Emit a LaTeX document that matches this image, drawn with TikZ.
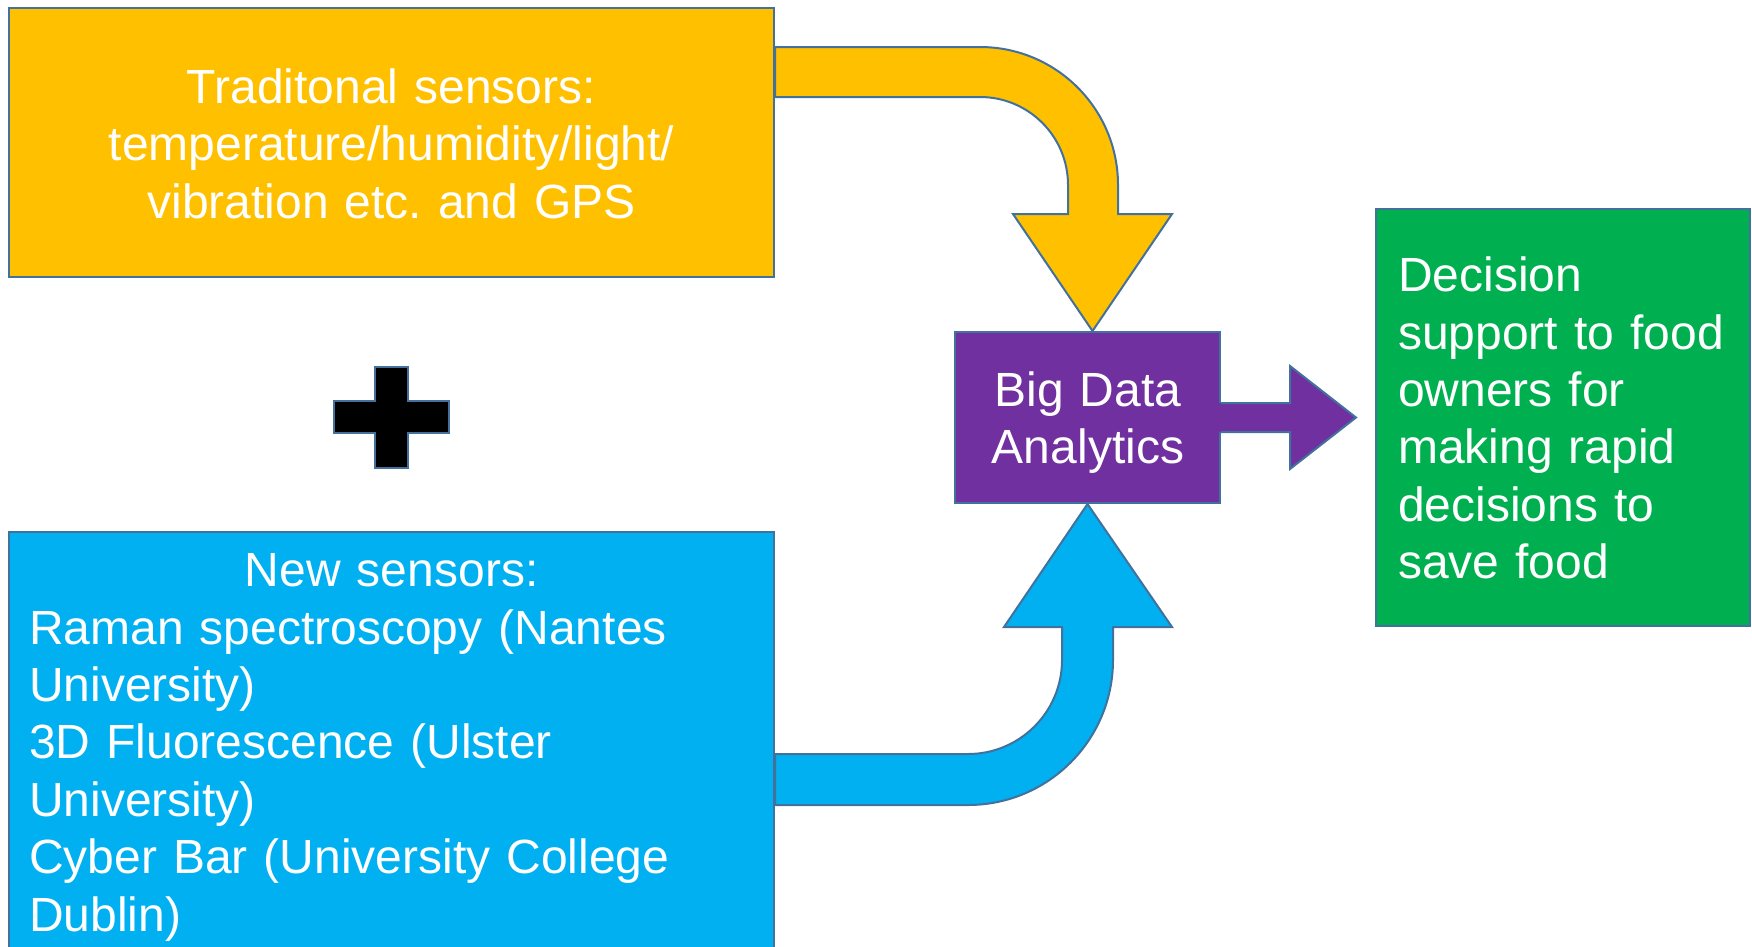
\documentclass[tikz,border=0pt]{standalone}
\usepackage{fontspec}
\setmainfont[WordSpace=0.85]{Liberation Sans}
\frenchspacing
\definecolor{yel}{HTML}{FFC000}
\definecolor{sky}{HTML}{00B0F0}
\definecolor{pur}{HTML}{7030A0}
\definecolor{grn}{HTML}{00B050}
\definecolor{edgeblue}{HTML}{41719C}
\begin{document}
\begin{tikzpicture}[x=1pt,y=-1pt,
  box/.style={draw=edgeblue, line width=2pt, rectangle, inner sep=0pt},
  txt/.style={text=white, font=\fontsize{48}{57.4}\selectfont, inner sep=0pt},
  blockarrow/.style={draw=edgeblue, line width=2pt, line join=miter}]
\useasboundingbox (0,0) rectangle (1752,946);
\clip (0,0) rectangle (1752,946);

% boxes
\node[box, fill=yel, minimum width=765pt, minimum height=269pt] (trad) at (391.5,142.5) {};
\node[box, fill=sky, minimum width=765pt, minimum height=438pt] (newsens) at (391.5,751) {};
\node[box, fill=pur, minimum width=265pt, minimum height=171pt] (bda) at (1087.5,417.5) {};
\node[box, fill=grn, minimum width=374pt, minimum height=417pt] (dec) at (1563,417.5) {};

% yellow bent arrow
\draw[blockarrow, fill=yel] (trad.east |- 0,47) -- (980,47)
  .. controls (1056.2,47) and (1118,108.8) .. (1118,185) -- (1118,214) -- (1172,214)
  -- (1092.5,331) -- (1013,214) -- (1068,214) -- (1068,185)
  .. controls (1068,136.4) and (1028.6,97) .. (980,97) -- (trad.east |- 0,97) -- cycle;

% blue bent arrow
\draw[blockarrow, fill=sky] (newsens.east |- 0,754) -- (968,754)
  .. controls (1019.9,754) and (1062,711.9) .. (1062,660) -- (1062,627) -- (1004,627)
  -- (1087.5,504) -- (1172,627) -- (1113,627) -- (1113,660)
  .. controls (1113,740.1) and (1048.1,805) .. (968,805) -- (newsens.east |- 0,805) -- cycle;

% purple arrow
\fill[pur] (1217,403) -- (1290,403) -- (1290,366) -- (1356,417.5) -- (1290,469) -- (1290,432) -- (1217,432) -- cycle;
\draw[blockarrow] (bda.east |- 0,403) -- (1290,403) -- (1290,366) -- (1356,417.5) -- (1290,469) -- (1290,432) -- (bda.east |- 0,432);

% plus sign
\draw[blockarrow, fill=black] (375,367) -- (408,367) -- (408,401) -- (449,401) -- (449,433) -- (408,433)
  -- (408,468) -- (375,468) -- (375,433) -- (334,433) -- (334,401) -- (375,401) -- cycle;

% texts
\node[txt, anchor=base, text width=740pt, align=center] (tradtxt) at (391.5,103.3)
  {Traditonal sensors:\\ temperature/humidity/light/\\ vibration etc. and GPS};
\node[txt, anchor=base west, text width=725pt, align=left] (newtxt) at (29,586.7)
  {\makebox[725pt][c]{New sensors:}\\ Raman spectroscopy (Nantes\\ University)\\ 3D Fluorescence (Ulster\\ University)\\ Cyber Bar (University College\\ Dublin)};
\node[txt, anchor=base, text width=260pt, align=center] (bdatxt) at (1088,406) {Big Data\\ Analytics};
\node[txt, anchor=base west, text width=345pt, align=left] (dectxt) at (1398,291.7)
  {Decision\\ support to food\\ owners for\\ making rapid\\ decisions to\\ save food};
\end{tikzpicture}
\end{document}
